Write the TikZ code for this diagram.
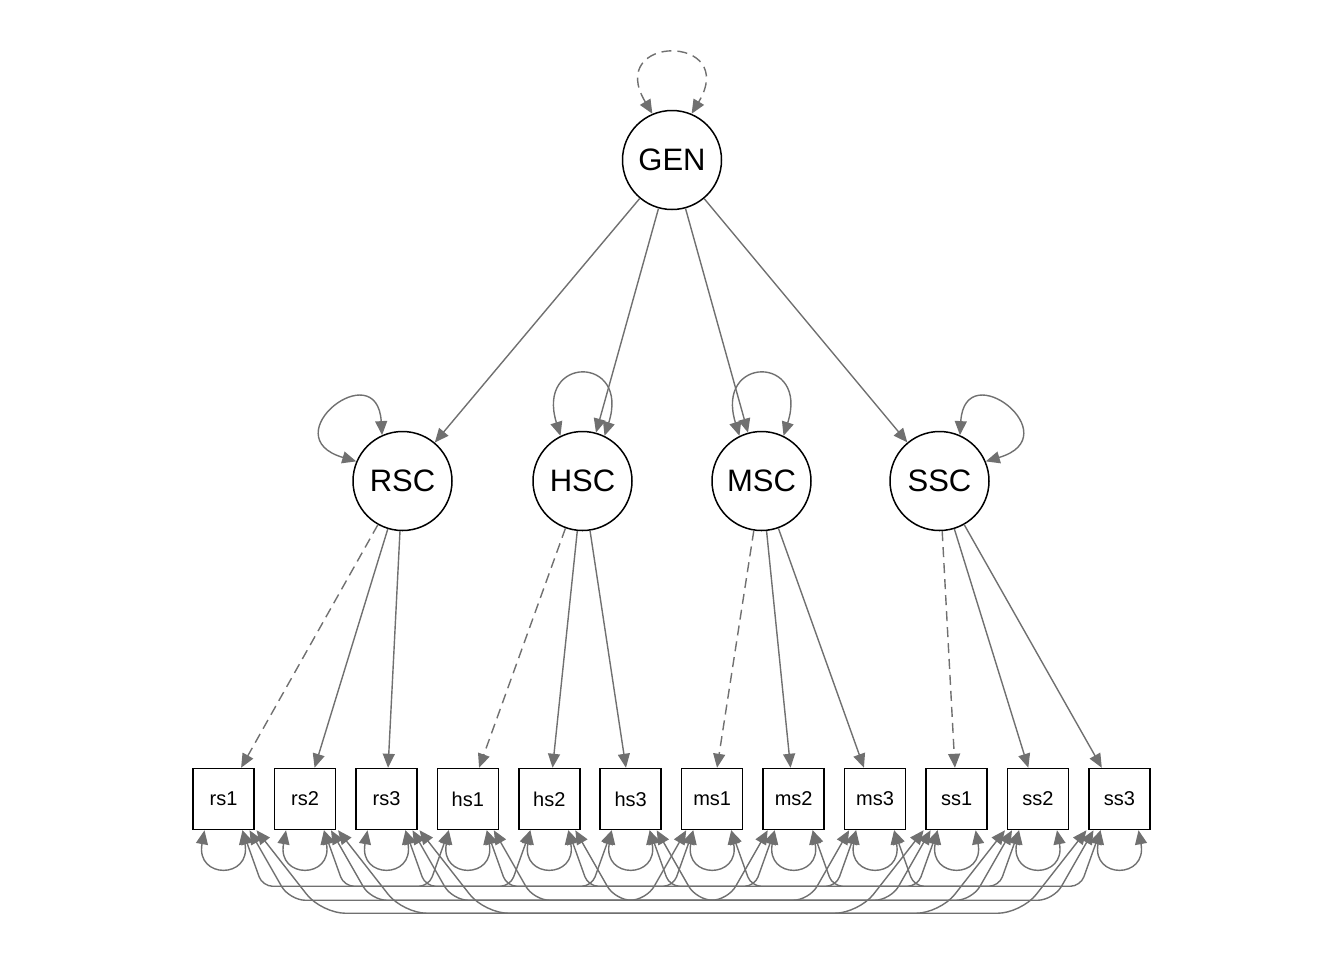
\documentclass[tikz,border=0pt]{standalone}
\usepackage{fontspec}
\setmainfont{Liberation Sans}
\usetikzlibrary{arrows.meta,calc}
\definecolor{edgegray}{RGB}{112,112,112}
\newcommand\covar[6]{\draw[cov,rounded corners=#6] ($(#1.south)+(#3,0)$) -- ++(#4,#5) -- ($(#2.south)+(-#3-#4,#5)$) -- ($(#2.south)+(-#3,0)$);}
\newcommand\sloop[1]{\draw[cov] ($(#1.south)+(-19,0)$) .. controls +(-9,49) and +(9,49) .. ($(#1.south)+(19,0)$);}
\newcommand\covset[4]{%
  \covar{#1}{#2}{19}{20}{56}{5pt}%
  \covar{#2}{#3}{19}{20}{56}{5pt}%
  \covar{#3}{#4}{19}{20}{56}{5pt}%
  \covar{#1}{#3}{26}{40}{70}{8pt}%
  \covar{#2}{#4}{26}{40}{70}{8pt}%
  \covar{#1}{#4}{33}{65}{83}{12pt}}
\begin{document}
\begin{tikzpicture}[x=0.5pt,y=-0.5pt,
  >={Triangle[length=7pt,width=6pt]},
  lat/.style={draw=black,circle,line width=0.75pt,fill=white,minimum size=49.5pt,inner sep=0pt,font=\fontsize{15.5pt}{18pt}\selectfont},
  obs/.style={draw=black,rectangle,line width=0.75pt,fill=white,minimum size=30.5pt,inner sep=0pt,font=\fontsize{10pt}{12pt}\selectfont},
  load/.style={draw=edgegray,line width=0.7pt,->},
  fixload/.style={load,dash pattern=on 5pt off 3pt},
  cov/.style={draw=edgegray,line width=0.7pt,<->}]
\useasboundingbox (0,0) rectangle (1344,960);
% latent variables
\node[lat] (GEN) at (672,160) {GEN};
\node[lat] (RSC) at (402.5,481) {RSC};
\node[lat] (HSC) at (582.5,481) {HSC};
\node[lat] (MSC) at (761.5,481) {MSC};
\node[lat] (SSC) at (939.5,481) {SSC};
% observed variables
\node[obs] (rs1) at (223.5,799) {rs1};
\node[obs] (rs2) at (305,799) {rs2};
\node[obs] (rs3) at (386.5,799) {rs3};
\node[obs] (hs1) at (467.8,799) {hs1};
\node[obs] (hs2) at (549.3,799) {hs2};
\node[obs] (hs3) at (630.7,799) {hs3};
\node[obs] (ms1) at (712.2,799) {ms1};
\node[obs] (ms2) at (793.7,799) {ms2};
\node[obs] (ms3) at (875.1,799) {ms3};
\node[obs] (ss1) at (956.6,799) {ss1};
\node[obs] (ss2) at (1038,799) {ss2};
\node[obs] (ss3) at (1119.5,799) {ss3};
% second-order loadings
\draw[load] (GEN) -- (RSC);
\draw[load] (GEN) -- (HSC);
\draw[load] (GEN) -- (MSC);
\draw[load] (GEN) -- (SSC);
% first-order loadings
\draw[fixload] (RSC) -- (rs1);
\draw[load] (RSC) -- (rs2);
\draw[load] (RSC) -- (rs3);
\draw[fixload] (HSC) -- (hs1);
\draw[load] (HSC) -- (hs2);
\draw[load] (HSC) -- (hs3);
\draw[fixload] (MSC) -- (ms1);
\draw[load] (MSC) -- (ms2);
\draw[load] (MSC) -- (ms3);
\draw[fixload] (SSC) -- (ss1);
\draw[load] (SSC) -- (ss2);
\draw[load] (SSC) -- (ss3);
% latent variances
\draw[cov,dash pattern=on 5pt off 3pt] (GEN.113) .. controls +(-48,-80) and +(48,-80) .. (GEN.67);
\draw[cov] (RSC.157) .. controls +(-85,-25) and +(-5,-82) .. (RSC.114);
\draw[cov] (HSC.116) .. controls +(-25,-81) and +(26,-81) .. (HSC.64);
\draw[cov] (MSC.116) .. controls +(-25,-81) and +(26,-81) .. (MSC.64);
\draw[cov] (SSC.23) .. controls +(85,-25) and +(5,-82) .. (SSC.66);
% residual variances
\foreach \n in {rs1,rs2,rs3,hs1,hs2,hs3,ms1,ms2,ms3,ss1,ss2,ss3}{\sloop{\n}}
% residual covariances
\covset{rs1}{hs1}{ms1}{ss1}
\covset{rs2}{hs2}{ms2}{ss2}
\covset{rs3}{hs3}{ms3}{ss3}
\end{tikzpicture}
\end{document}
